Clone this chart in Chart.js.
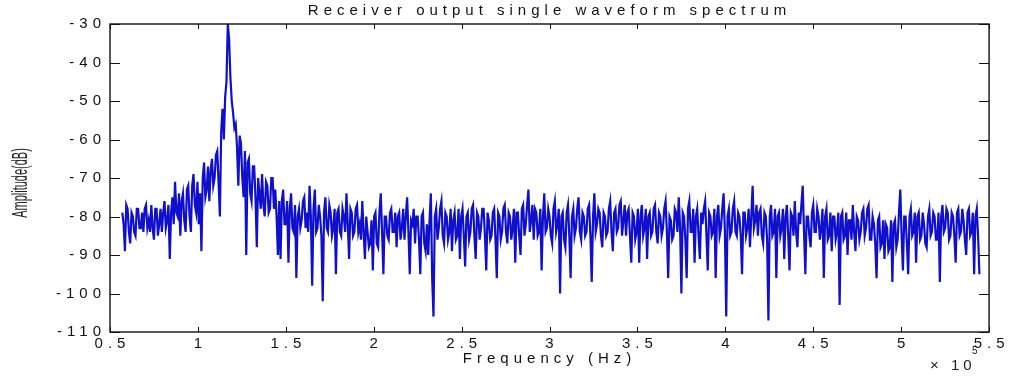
<!DOCTYPE html>
<html lang="en">
<head>
<meta charset="UTF-8">
<title>Receiver output single waveform spectrum</title>
<script src="https://cdn.jsdelivr.net/npm/chart.js@4.4.1/dist/chart.umd.min.js"></script>
<style>
    body { margin: 0; background: #fff; }
    #wrap { width: 1010px; height: 376px; }
</style>
</head>
<body>
<div id="wrap"><canvas id="spectrum" width="1010" height="376"></canvas></div>
<script>
// frequency bins: first bin and bin width, in Hz
var FREQ_START = 57000;
var FREQ_STEP = 750;

// amplitude of each bin (dB), 20 bins per row
var amplitude = [
    -79, -82, -89, -77, -78, -84, -87, -79, -80, -84, -85, -78, -78, -83, -83, -79, -84, -78, -77, -83,
    -81, -84, -77, -83, -86, -78, -78, -85, -82, -78, -84, -79, -76, -83, -81, -77, -91, -79, -75, -82,
    -71, -79, -80, -74, -85, -76, -74, -81, -84, -73, -72, -80, -84, -72, -69, -77, -79, -71, -82, -74,
    -89, -70, -66, -75, -73, -67, -76, -68, -65, -72, -70, -64, -63, -71, -80, -58, -52, -60, -49, -45,
    -30, -34, -44, -50, -53, -57, -56, -62, -72, -59, -61, -70, -75, -63, -90, -66, -65, -74, -76, -67,
    -67, -75, -88, -70, -74, -78, -69, -77, -80, -71, -72, -79, -78, -70, -70, -78, -73, -80, -90, -76,
    -91, -76, -73, -82, -82, -76, -92, -78, -74, -83, -84, -77, -96, -80, -78, -83, -81, -76, -75, -83,
    -79, -84, -72, -80, -98, -78, -73, -84, -83, -77, -80, -85, -102, -79, -75, -83, -84, -77, -79, -85,
    -83, -78, -95, -79, -78, -84, -85, -78, -80, -84, -74, -82, -91, -78, -79, -85, -84, -78, -77, -84,
    -82, -86, -76, -84, -91, -80, -84, -88, -87, -81, -94, -80, -79, -87, -88, -79, -74, -84, -95, -80,
    -80, -85, -86, -79, -78, -84, -84, -79, -88, -80, -79, -86, -83, -78, -86, -80, -75, -84, -95, -81,
    -82, -78, -87, -80, -80, -86, -95, -80, -79, -87, -89, -82, -90, -81, -74, -96, -106, -80, -78, -86,
    -83, -78, -76, -85, -87, -79, -80, -86, -84, -78, -89, -81, -79, -86, -85, -78, -91, -80, -78, -85,
    -93, -80, -79, -86, -84, -78, -77, -85, -91, -79, -80, -86, -83, -78, -78, -85, -94, -79, -81, -86,
    -85, -79, -78, -86, -96, -79, -80, -86, -84, -78, -77, -84, -87, -79, -80, -86, -83, -78, -92, -79,
    -79, -85, -90, -78, -77, -85, -82, -77, -73, -84, -81, -77, -86, -78, -79, -85, -84, -78, -94, -80,
    -74, -84, -83, -78, -80, -85, -87, -78, -76, -84, -82, -78, -100, -80, -79, -86, -88, -79, -77, -85,
    -96, -80, -78, -85, -83, -78, -75, -84, -86, -79, -80, -85, -84, -78, -77, -85, -97, -80, -74, -84,
    -82, -78, -79, -85, -88, -79, -80, -85, -84, -78, -76, -84, -89, -79, -78, -84, -83, -77, -76, -85,
    -81, -77, -85, -79, -78, -85, -92, -79, -80, -86, -84, -78, -92, -80, -77, -85, -83, -78, -91, -80,
    -79, -85, -84, -78, -77, -84, -87, -79, -80, -85, -83, -78, -76, -84, -96, -80, -81, -86, -85, -78,
    -79, -84, -75, -83, -100, -79, -80, -86, -96, -78, -76, -84, -84, -78, -92, -80, -78, -85, -91, -79,
    -82, -78, -76, -85, -94, -79, -80, -85, -84, -78, -96, -80, -77, -85, -83, -78, -74, -84, -106, -80,
    -78, -85, -84, -78, -76, -84, -85, -79, -80, -85, -95, -79, -79, -85, -83, -78, -88, -80, -72, -83,
    -81, -77, -85, -79, -78, -85, -87, -79, -80, -86, -107, -80, -77, -85, -84, -78, -96, -80, -79, -85,
    -83, -78, -91, -80, -77, -85, -94, -79, -80, -85, -76, -84, -88, -79, -82, -77, -72, -84, -95, -80,
    -80, -85, -88, -79, -77, -84, -84, -78, -80, -86, -83, -78, -96, -80, -78, -86, -85, -79, -89, -80,
    -80, -86, -84, -79, -103, -80, -79, -86, -85, -79, -90, -81, -81, -86, -77, -84, -89, -80, -81, -86,
    -84, -79, -78, -85, -83, -78, -77, -86, -86, -80, -82, -87, -96, -81, -80, -88, -87, -81, -91, -82,
    -83, -89, -88, -81, -97, -82, -81, -88, -86, -79, -73, -85, -94, -80, -80, -87, -95, -80, -78, -85,
    -84, -79, -92, -80, -79, -86, -85, -79, -82, -87, -88, -80, -78, -85, -84, -79, -80, -86, -86, -79,
    -97, -80, -77, -84, -83, -78, -79, -86, -85, -79, -80, -85, -92, -79, -78, -85, -84, -78, -81, -86,
    -90, -79, -78, -85, -84, -79, -95, -80, -78, -85, -95
];

var xTicks = [50000, 100000, 150000, 200000, 250000, 300000, 350000, 400000, 450000, 500000, 550000];
var yTicks = [-110, -100, -90, -80, -70, -60, -50, -40, -30];

var FONT = '"Liberation Sans", Arial, Helvetica, sans-serif';
var SPACING = 5;

var points = amplitude.map(function (v, i) {
    return { x: FREQ_START + i * FREQ_STEP, y: v };
});

// boxed axes with inward ticks, exponent note and squeezed y label
var matlabAxes = {
    id: 'matlabAxes',
    beforeLayout: function (chart) { chart.ctx.letterSpacing = SPACING + 'px'; },
    beforeDraw: function (chart) { chart.ctx.letterSpacing = SPACING + 'px'; },
    afterDraw: function (chart) {
        var ctx = chart.ctx, a = chart.chartArea;
        var xs = chart.scales.x, ys = chart.scales.y;
        ctx.save();
        ctx.strokeStyle = '#111';
        ctx.lineWidth = 1.4;
        ctx.strokeRect(a.left, a.top, a.right - a.left, a.bottom - a.top);
        ctx.lineWidth = 1;
        ctx.beginPath();
        xs.ticks.forEach(function (t) {
            var px = Math.round(xs.getPixelForValue(t.value)) + 0.5;
            ctx.moveTo(px, a.bottom); ctx.lineTo(px, a.bottom - 5);
            ctx.moveTo(px, a.top); ctx.lineTo(px, a.top + 5);
        });
        ys.ticks.forEach(function (t) {
            var py = Math.round(ys.getPixelForValue(t.value)) + 0.5;
            ctx.moveTo(a.left, py); ctx.lineTo(a.left + 10, py);
            ctx.moveTo(a.right, py); ctx.lineTo(a.right - 10, py);
        });
        ctx.stroke();

        ctx.fillStyle = '#222';
        ctx.textAlign = 'left';
        ctx.textBaseline = 'alphabetic';
        ctx.letterSpacing = '4px';
        ctx.font = '15px ' + FONT;
        ctx.fillText('\u00d7 10', 930, 370);
        ctx.font = '10px ' + FONT;
        ctx.fillText('5', 972, 354);

        ctx.letterSpacing = '0px';
        ctx.translate(21, 183);
        ctx.rotate(-Math.PI / 2);
        ctx.scale(0.5, 1);
        ctx.font = '22px ' + FONT;
        ctx.textAlign = 'center';
        ctx.textBaseline = 'middle';
        ctx.fillText('Amplitude(dB)', 0, 0);
        ctx.restore();
    }
};

new Chart(document.getElementById('spectrum'), {
    type: 'line',
    data: {
        datasets: [{
            data: points,
            borderColor: '#1010cc',
            borderWidth: 2.2,
            pointRadius: 0,
            tension: 0,
            fill: false
        }]
    },
    options: {
        responsive: false,
        animation: false,
        layout: { padding: { left: 0, right: 20, top: 0, bottom: 0 } },
        plugins: {
            legend: { display: false },
            tooltip: { enabled: false },
            title: {
                display: true,
                fullSize: false,
                text: 'Receiver output single waveform spectrum',
                color: '#111',
                font: { family: FONT, size: 15, weight: 'normal' },
                padding: { top: 2, bottom: 4 }
            }
        },
        scales: {
            x: {
                type: 'linear',
                min: 50000,
                max: 550000,
                afterBuildTicks: function (scale) {
                    scale.ticks = xTicks.map(function (v) { return { value: v }; });
                },
                afterFit: function (scale) { scale.height = 44; },
                grid: { display: false, drawTicks: false },
                border: { display: false },
                ticks: {
                    padding: 3,
                    labelOffset: SPACING / 2,
                    maxRotation: 0,
                    autoSkip: false,
                    color: '#111',
                    font: { family: FONT, size: 15 },
                    callback: function (v) { return String(v / 100000); }
                },
                title: {
                    display: true,
                    text: 'Frequency (Hz)',
                    color: '#111',
                    font: { family: FONT, size: 15 },
                    padding: { top: 0, bottom: 8 }
                }
            },
            y: {
                min: -110,
                max: -30,
                afterBuildTicks: function (scale) {
                    scale.ticks = yTicks.map(function (v) { return { value: v }; });
                },
                afterFit: function (scale) { scale.width = 110; },
                grid: { display: false, drawTicks: false },
                border: { display: false },
                ticks: {
                    padding: 4,
                    color: '#111',
                    font: { family: FONT, size: 15 }
                }
            }
        }
    },
    plugins: [matlabAxes]
});
</script>
</body>
</html>
